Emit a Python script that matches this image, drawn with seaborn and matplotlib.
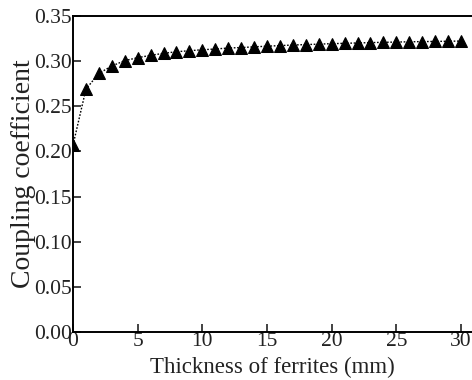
import matplotlib
matplotlib.use("Agg")
import matplotlib.pyplot as plt
import seaborn as sns
import pandas as pd

# Ferrite thickness (mm) and the resulting coupling coefficient
thickness_mm = list(range(0, 31))
coupling = [0.207, 0.269, 0.2864, 0.2946, 0.3005, 0.3038, 0.3064, 0.3086, 0.3104,
            0.3115, 0.3126, 0.3134, 0.3145, 0.3150, 0.3158, 0.3165, 0.3172, 0.3178,
            0.3183, 0.3188, 0.3193, 0.3197, 0.3201, 0.3205, 0.3208, 0.3211, 0.3214,
            0.3216, 0.3218, 0.3220, 0.3222]

x_ticks = [0, 5, 10, 15, 20, 25, 30]
y_ticks = [0.00, 0.05, 0.10, 0.15, 0.20, 0.25, 0.30, 0.35]

df = pd.DataFrame({"thickness": thickness_mm, "k": coupling})

sns.set_theme(style="ticks")
plt.rcParams["font.family"] = ["Liberation Serif", "DejaVu Serif"]

fig = plt.figure(figsize=(4.72, 3.8), dpi=100)
ax = fig.add_axes([0.1547, 0.1263, 1.0 - 0.1547, 0.958 - 0.1263])

sns.lineplot(data=df, x="thickness", y="k", ax=ax, color="black",
             linestyle=(0, (1.2, 1.2)), linewidth=1.0, marker="^",
             markersize=8, markeredgecolor="black", markerfacecolor="black")

ax.set_xlim(0, 30.85)
ax.set_ylim(0, 0.35)
ax.set_xticks(x_ticks)
ax.set_xticklabels([str(t) for t in x_ticks])
ax.set_yticks(y_ticks)
ax.set_yticklabels([f"{t:.2f}" for t in y_ticks])
ax.tick_params(direction="in", length=6, width=1.2, labelsize=15.5,
               colors="#222222", pad=1)
ax.tick_params(axis="x", pad=0)
for side in ["left", "bottom", "top"]:
    ax.spines[side].set_linewidth(1.4)
    ax.spines[side].set_color("black")
ax.spines["right"].set_visible(False)

ax.set_xlabel("Thickness of ferrites (mm)", fontsize=16.5, labelpad=4.5, color="#222222")
ax.set_ylabel("Coupling coefficient", fontsize=20, labelpad=-1.5, color="#222222")

fig.savefig("out.png", dpi=100)
